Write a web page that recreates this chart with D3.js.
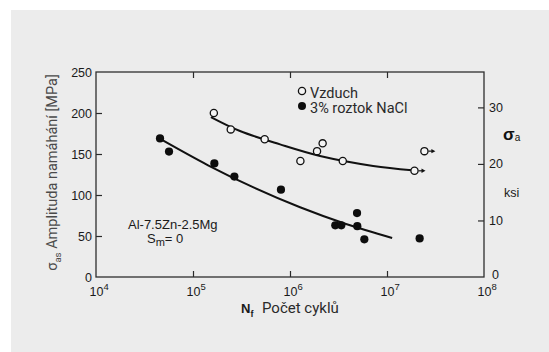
<!DOCTYPE html>
<html>
<head>
<meta charset="utf-8">
<script src="https://cdn.jsdelivr.net/npm/d3@7"></script>
<style>
html,body{margin:0;padding:0;background:#fff;}
svg{display:block;}
</style>
</head>
<body>
<svg id="chart" width="549" height="352"></svg>
<script>
// ---- data ----
const xTicks = [1e4, 1e5, 1e6, 1e7, 1e8];
const xTickExp = ["4", "5", "6", "7", "8"];
const yTicksMPa = [0, 50, 100, 150, 200, 250];
const yTicksKsi = [0, 10, 20, 30];

// Vzduch (air) - open circles: [cycles, MPa, runout]
const airN   = [1.64e5, 2.45e5, 5.48e5, 1.28e6, 1.90e6, 2.17e6, 3.50e6, 1.92e7, 2.43e7];
const airS   = [200, 180, 168, 141.5, 153.5, 163, 141.5, 129.5, 153.5];
const airRun = [false, false, false, false, false, false, false, true, true];

// 3% roztok NaCl - filled circles
const naclN = [4.57e4, 5.66e4, 1.66e5, 2.67e5, 8.07e5, 2.93e6, 3.38e6, 4.91e6, 4.94e6, 5.84e6, 2.17e7];
const naclS = [169, 153, 138.5, 122.5, 106.5, 63, 63, 78, 62, 46, 47];

// fitted curves
const airCurveN  = [1.53e5, 3.05e5, 7.9e5, 2.04e6, 7.2e6, 1.81e7];
const airCurveS  = [195, 178, 161.7, 147.6, 135.5, 130.3];
const naclCurveN = [4.79e4, 1.43e5, 4.26e5, 1.27e6, 3.78e6, 1.13e7];
const naclCurveS = [167.1, 136.2, 108.9, 85.0, 64.6, 47.6];

const legendLabels = ["Vzduch", "3% roztok NaCl"];
const MPA_PER_KSI = 6.894757;

// ---- layout ----
const svg = d3.select("#chart");
const L = 96, R = 484, T = 72, B = 277;
const x = d3.scaleLog().domain([1e4, 1e8]).range([L, R]);
const y = d3.scaleLinear().domain([0, 250]).range([B, T]);
const yK = d3.scaleLinear().domain([0, 250 / MPA_PER_KSI]).range([B, T]);

const ink = "#1a1a1a";
const tickFont = "'Liberation Sans', Arial, sans-serif";
const sansFont = "Roboto, 'Open Sans', sans-serif";

// panel background
svg.append("rect").attr("x", 11).attr("y", 10).attr("width", 549 - 11).attr("height", 352 - 10)
  .attr("fill", "#ececec");

// axes ticks
function styleAxis(g) {
  g.select(".domain").remove();
  g.selectAll(".tick line").attr("stroke", "#2a2a2a").attr("stroke-width", 1.2);
  g.selectAll("text").attr("font-family", tickFont).attr("font-size", 12.5).attr("fill", ink);
}
svg.append("g").attr("transform", `translate(0,${B})`)
  .call(d3.axisBottom(x).tickValues(xTicks.slice(1, 4)).tickSize(-6).tickFormat(""))
  .call(styleAxis);
svg.append("g").attr("transform", `translate(0,${T})`)
  .call(d3.axisTop(x).tickValues(xTicks.slice(1, 4)).tickSize(-6).tickFormat(""))
  .call(styleAxis);
svg.append("g").attr("transform", `translate(${L},0)`)
  .call(d3.axisLeft(y).tickValues(yTicksMPa).tickSize(-6).tickPadding(4))
  .call(styleAxis)
  .call(g => g.selectAll(".tick").filter(d => d === 0 || d === 250).select("line").remove());
svg.append("g").attr("transform", `translate(${R},0)`)
  .call(d3.axisRight(yK).tickValues(yTicksKsi).tickSize(-6).tickPadding(5))
  .call(styleAxis)
  .call(g => g.selectAll(".tick").filter(d => d === 0).select("line").remove())
  .call(g => g.selectAll(".tick").filter(d => d === 0).select("text").attr("dy", "0.1em").attr("x", 8));

// x tick labels with superscripts
const xl = svg.append("g");
xTicks.forEach((v, i) => {
  const t = xl.append("text").attr("x", x(v) - 6.5).attr("y", 296)
    .attr("font-family", tickFont).attr("font-size", 12.5).attr("fill", ink);
  t.append("tspan").text("10");
  t.append("tspan").attr("dy", -6).attr("font-size", 9.5).text(xTickExp[i]);
});

// frame
svg.append("rect").attr("x", L).attr("y", T).attr("width", R - L).attr("height", B - T)
  .attr("fill", "none").attr("stroke", "#2e2e2e").attr("stroke-width", 1.3);

// curves
const line = d3.line().x(d => x(d[0])).y(d => y(d[1])).curve(d3.curveCatmullRom.alpha(0.5));
svg.append("path").datum(airCurveN.map((n, i) => [n, airCurveS[i]]))
  .attr("d", line).attr("fill", "none").attr("stroke", "#111").attr("stroke-width", 2);
svg.append("path").datum(naclCurveN.map((n, i) => [n, naclCurveS[i]]))
  .attr("d", line).attr("fill", "none").attr("stroke", "#111").attr("stroke-width", 2);

// runout arrows
const airData = airN.map((n, i) => ({n, s: airS[i], run: airRun[i]}));
const runs = svg.append("g");
airData.filter(d => d.run).forEach(d => {
  const cx = x(d.n), cy = y(d.s);
  runs.append("line").attr("x1", cx + 4).attr("x2", cx + 8).attr("y1", cy).attr("y2", cy)
    .attr("stroke", "#111").attr("stroke-width", 1.2);
  runs.append("path").attr("d", `M${cx + 7},${cy - 2.2}L${cx + 11},${cy}L${cx + 7},${cy + 2.2}Z`).attr("fill", "#111");
});

// points
svg.append("g").selectAll("circle").data(airData).join("circle")
  .attr("cx", d => x(d.n)).attr("cy", d => y(d.s)).attr("r", 3.6)
  .attr("fill", "#f4f4f4").attr("stroke", "#111").attr("stroke-width", 1.3);
svg.append("g").selectAll("circle").data(naclN.map((n, i) => ({n, s: naclS[i]}))).join("circle")
  .attr("cx", d => x(d.n)).attr("cy", d => y(d.s)).attr("r", 4.1)
  .attr("fill", "#0d0d0d");

// legend
const lg = svg.append("g");
lg.append("circle").attr("cx", 302).attr("cy", 91).attr("r", 3.6)
  .attr("fill", "#f4f4f4").attr("stroke", "#111").attr("stroke-width", 1.3);
lg.append("circle").attr("cx", 302).attr("cy", 106).attr("r", 4).attr("fill", "#0d0d0d");
lg.append("text").attr("x", 310).attr("y", 97.5).text(legendLabels[0])
  .attr("font-family", sansFont).attr("font-size", 14.5).attr("fill", "#2a2a2a");
lg.append("text").attr("x", 310).attr("y", 113).text(legendLabels[1])
  .attr("font-family", sansFont).attr("font-size", 14.5).attr("fill", "#2a2a2a");

// annotation
svg.append("text").attr("x", 128).attr("y", 229).text("Al-7.5Zn-2.5Mg")
  .attr("font-family", tickFont).attr("font-size", 13).attr("fill", ink);
const sm = svg.append("text").attr("x", 147).attr("y", 243)
  .attr("font-family", tickFont).attr("font-size", 13).attr("fill", ink);
sm.append("tspan").text("S");
sm.append("tspan").attr("dy", 3).attr("font-size", 11).text("m");
sm.append("tspan").attr("dy", -3).text("= 0");

// right axis label
const sa = svg.append("text").attr("x", 503).attr("y", 140).attr("fill", "#111")
  .attr("font-family", tickFont);
sa.append("tspan").attr("font-size", 17).attr("font-weight", "bold").text("σ");
sa.append("tspan").attr("font-size", 10).attr("dy", 1).text("a");
svg.append("text").attr("x", 504).attr("y", 197).text("ksi")
  .attr("font-family", tickFont).attr("font-size", 12.5).attr("fill", ink);

// y title
const yt = svg.append("text").attr("transform", "translate(57,172.5) rotate(-90)")
  .attr("text-anchor", "middle").attr("font-family", sansFont).attr("font-size", 14.5).attr("fill", "#4a4a4a");
yt.append("tspan").text("σ");
yt.append("tspan").attr("font-size", 9.5).attr("dy", 4).text("as");
yt.append("tspan").attr("dy", -4).text(" Amplituda namáhání [MPa]");

// x title
const xt = svg.append("text").attr("x", 241).attr("y", 313).attr("fill", "#1a1a1a");
xt.append("tspan").attr("font-family", tickFont).attr("font-weight", "bold").attr("font-size", 13).text("N");
xt.append("tspan").attr("font-family", tickFont).attr("font-weight", "bold").attr("font-size", 9).attr("dy", 4).text("f");
xt.append("tspan").attr("dy", -4).attr("x", 262).attr("font-family", sansFont).attr("font-size", 15).attr("fill", "#2a2a2a").text("Počet cyklů");
</script>
</body>
</html>
